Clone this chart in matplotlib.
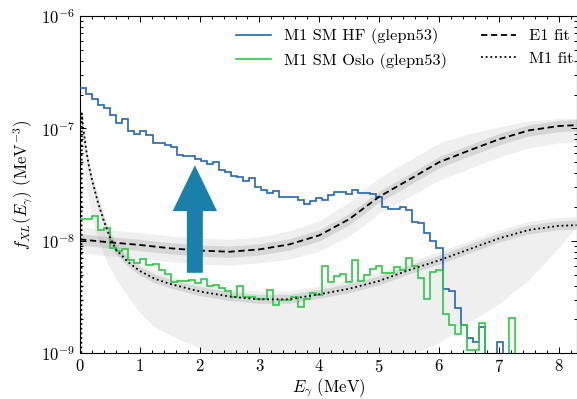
import numpy as np
import matplotlib
matplotlib.use('Agg')
import matplotlib.pyplot as plt
from matplotlib.patches import FancyArrowPatch
from matplotlib.ticker import MultipleLocator, LogLocator, NullFormatter, FixedLocator

plt.rcParams['font.family'] = ['cmr10']
plt.rcParams['mathtext.fontset'] = 'cm'
plt.rcParams['axes.unicode_minus'] = False
plt.rcParams['axes.formatter.use_mathtext'] = True

# ---------------- data ----------------
bin_width = 0.101  # MeV
hf_sm = [2.28e-7, 2.02e-7, 1.82e-7, 1.62e-7, 1.51e-7, 1.32e-7, 1.12e-7, 1.21e-7, 9.55e-8, 8.87e-8,
         9.55e-8, 8.74e-8, 7.38e-8, 7.38e-8, 7.08e-8, 6.88e-8, 5.81e-8, 5.69e-8, 5.72e-8, 5.32e-8,
         5.16e-8, 4.78e-8, 5.08e-8, 4.27e-8, 4.08e-8, 3.81e-8, 3.72e-8, 3.41e-8, 3.66e-8, 3.01e-8,
         2.86e-8, 2.69e-8, 2.76e-8, 2.45e-8, 2.45e-8, 2.44e-8, 2.31e-8, 2.11e-8, 2.26e-8, 2.41e-8,
         2.31e-8, 2.56e-8, 2.70e-8, 2.74e-8, 2.60e-8, 2.83e-8, 2.68e-8, 2.68e-8, 2.61e-8, 2.44e-8,
         2.00e-8, 1.92e-8, 1.92e-8, 2.01e-8, 1.88e-8, 1.48e-8, 1.44e-8, 1.17e-8, 9.97e-9, 8.64e-9,
         3.71e-9, 3.60e-9, 2.51e-9, 1.79e-9, 1.36e-9, 1.27e-9, 1.72e-9, 0, 0, 1.27e-9,
         0, 0, 0]
oslo_sm = [1.58e-8, 1.58e-8, 1.67e-8, 1.26e-8, 1.30e-8, 8.64e-9, 8.13e-9, 8.47e-9, 6.76e-9, 6.32e-9,
           6.87e-9, 6.10e-9, 6.17e-9, 5.54e-9, 5.07e-9, 4.35e-9, 4.40e-9, 4.44e-9, 4.49e-9, 4.26e-9,
           4.55e-9, 3.97e-9, 4.05e-9, 3.83e-9, 3.56e-9, 3.20e-9, 3.94e-9, 3.17e-9, 3.17e-9, 3.04e-9,
           3.04e-9, 3.66e-9, 2.69e-9, 2.96e-9, 2.96e-9, 3.15e-9, 2.59e-9, 3.02e-9, 3.46e-9, 3.30e-9,
           5.98e-9, 4.31e-9, 4.84e-9, 5.07e-9, 4.33e-9, 6.76e-9, 4.40e-9, 4.97e-9, 5.59e-9, 5.98e-9,
           5.21e-9, 5.21e-9, 5.83e-9, 5.54e-9, 7.11e-9, 5.98e-9, 4.72e-9, 3.02e-9, 5.32e-9, 5.56e-9,
           2.25e-9, 1.77e-9, 1.47e-9, 1.79e-9, 1.07e-9, 1.07e-9, 1.87e-9, 0, 0, 0,
           0, 2.08e-9, 0]

# E1 fit and its bands
e1_E = [0.0, 0.5, 1.0, 1.5, 2.0, 2.5, 3.0, 3.5, 4.0, 4.5, 5.0, 5.5, 6.0, 6.5, 7.0, 7.5, 8.0, 8.3]
e1_fit = [1.03e-8, 9.7e-9, 9.2e-9, 8.6e-9, 8.2e-9, 8.0e-9, 8.4e-9, 9.3e-9, 1.12e-8, 1.56e-8,
          2.47e-8, 3.5e-8, 5.0e-8, 6.35e-8, 8.0e-8, 9.6e-8, 1.05e-7, 1.07e-7]
e1_in_dex = [0.05] * 18
e1_out_up_dex = [0.11, 0.11, 0.11, 0.11, 0.11, 0.11, 0.11, 0.12, 0.13, 0.15, 0.17, 0.17, 0.17, 0.15,
                 0.11, 0.085, 0.065, 0.06]
e1_out_lo_dex = [0.12, 0.12, 0.12, 0.12, 0.12, 0.12, 0.12, 0.13, 0.14, 0.15, 0.15, 0.15, 0.16, 0.16,
                 0.16, 0.155, 0.15, 0.15]

# M1 fit and its bands
m1_E = [0.0, 0.03, 0.05, 0.1, 0.15, 0.2, 0.3, 0.4, 0.5, 0.6, 0.8, 1.0, 1.25, 1.5, 2.0, 2.5, 3.0,
        3.5, 4.0, 4.5, 5.0, 5.5, 6.0, 6.5, 7.0, 7.5, 8.0, 8.3]
m1_fit = [1e-15, 1.36e-7, 1.05e-7, 6.6e-8, 4.6e-8, 3.5e-8, 2.2e-8, 1.5e-8, 1.08e-8, 8.4e-9, 6.5e-9,
          5.4e-9, 4.6e-9, 4.15e-9, 3.55e-9, 3.2e-9, 3.02e-9, 3.02e-9, 3.35e-9, 3.75e-9, 4.4e-9,
          5.5e-9, 6.7e-9, 8.4e-9, 1.05e-8, 1.25e-8, 1.36e-8, 1.38e-8]
m1_in_dex = [0.04] * 28
m1_out_up_dex = [0.07] * 28
m1_wide_lo = [1e-15, 9e-8, 6e-8, 3.5e-8, 2.3e-8, 1.6e-8, 1.05e-8, 7.5e-9, 5.8e-9, 4.6e-9, 3.2e-9,
              2.3e-9, 1.7e-9, 1.45e-9, 1.1e-9, 9e-10, 7.5e-10, 6.5e-10, 6e-10, 6.5e-10, 7.5e-10,
              9.5e-10, 1.22e-9, 1.85e-9, 2.7e-9, 4.4e-9, 8.5e-9, 1.3e-8]

y_ticks = [1e-9, 1e-8, 1e-7, 1e-6]
x_ticks = [0, 1, 2, 3, 4, 5, 6, 7, 8]

arrow_x = 1.92
arrow_y0, arrow_y1 = 5.2e-9, 4.7e-8

# ---------------- plot ----------------
fig = plt.figure(figsize=(5.77, 3.99), dpi=100)
ax = fig.add_axes([80 / 577, (399 - 353.3) / 399, 496.5 / 577, 337.3 / 399])
ax.set_yscale('log')

e1E = np.array(e1_E); e1 = np.array(e1_fit)
m1E = np.array(m1_E); m1 = np.array(m1_fit)

band_c = '#7f7f7f'
# E1 bands
ax.fill_between(e1E, e1 / 10 ** np.array(e1_out_lo_dex), e1 * 10 ** np.array(e1_out_up_dex),
                color=band_c, alpha=0.12, lw=0, zorder=1)
ax.fill_between(e1E, e1 / 10 ** np.array(e1_in_dex), e1 * 10 ** np.array(e1_in_dex),
                color=band_c, alpha=0.22, lw=0, zorder=1)
# M1 bands
ax.fill_between(m1E, np.array(m1_wide_lo), m1 * 10 ** np.array(m1_out_up_dex),
                color=band_c, alpha=0.12, lw=0, zorder=1)
ax.fill_between(m1E, m1 / 10 ** np.array(m1_in_dex), m1 * 10 ** np.array(m1_in_dex),
                color=band_c, alpha=0.22, lw=0, zorder=1)

edges = np.arange(len(hf_sm) + 1) * bin_width
hf = np.array(hf_sm); hf[hf <= 0] = 1e-15
osl = np.array(oslo_sm); osl[osl <= 0] = 1e-15
h1 = ax.stairs(hf, edges, color='#2266b4', lw=1.2, baseline=None, zorder=3,
               label='M1 SM HF (glepn53)')
h2 = ax.stairs(osl, edges, color='#2cc84a', lw=1.2, baseline=None, zorder=3,
               label='M1 SM Oslo (glepn53)')
l1, = ax.plot(e1E, e1, color='k', ls=(0, (3.5, 2)), lw=1.3, zorder=4, label='E1 fit')
l2, = ax.plot(m1E, m1, color='k', ls=(0, (1, 1.6)), lw=1.3, zorder=4, label='M1 fit')

arrow = FancyArrowPatch((arrow_x, arrow_y0), (arrow_x, arrow_y1),
                        arrowstyle='simple,head_length=3.3,head_width=3.2,tail_width=1.15',
                        mutation_scale=10, color='#1a80aa', lw=0, shrinkA=0, shrinkB=0,
                        transform=ax.transData, zorder=6)
ax.add_patch(arrow)

ax.set_xlim(0, 8.3)
ax.set_ylim(1e-9, 1e-6)
ax.xaxis.set_major_locator(FixedLocator(x_ticks))
ax.xaxis.set_minor_locator(MultipleLocator(0.2))
ax.yaxis.set_major_locator(FixedLocator(y_ticks))
ax.yaxis.set_minor_locator(LogLocator(base=10, subs=np.arange(2, 10), numticks=10))
ax.yaxis.set_minor_formatter(NullFormatter())
ax.tick_params(which='both', direction='in', top=True, right=True, labelsize=12, width=0.7)
ax.tick_params(which='major', length=4)
ax.tick_params(which='minor', length=2.2)
for s in ax.spines.values():
    s.set_linewidth(0.8)

ax.set_xlabel(r'$E_\gamma$ (MeV)', fontsize=12, labelpad=1)
ax.set_ylabel(r'$f_{XL}(E_\gamma)$ (MeV$^{-3}$)', fontsize=12, labelpad=4)

ax.legend(handles=[h1, h2, l1, l2], loc='upper left', bbox_to_anchor=(0.3145, 0.963), ncol=2,
          frameon=False, fontsize=11.8, handlelength=2.1, handletextpad=0.8, columnspacing=2.1,
          labelspacing=0.5, borderpad=0, borderaxespad=0)

fig.savefig('out.png', dpi=100)
